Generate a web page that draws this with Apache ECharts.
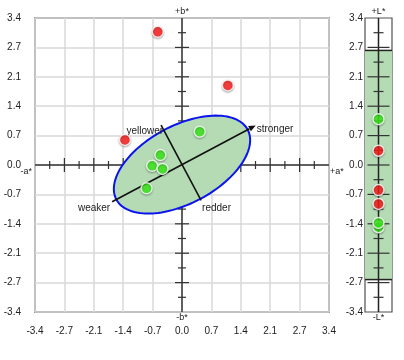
<!DOCTYPE html>
<html><head><meta charset="utf-8">
<script src="https://cdn.jsdelivr.net/npm/echarts@6/dist/echarts.min.js"></script>
<style>html,body{margin:0;padding:0;background:#fff}#c{width:404px;height:360px}</style>
</head><body><div id="c"></div>
<script>
// ---- data ----
const tickLabels = ['-3.4','-2.7','-2.1','-1.4','-0.7','0.0','0.7','1.4','2.1','2.7','3.4'];
const redAB = [[-0.56, 3.08], [-1.32, 0.58], [1.06, 1.84]];
const greenAB = [[0.41, 0.77], [-0.50, 0.23], [-0.69, -0.02], [-0.45, -0.09], [-0.82, -0.54]];
const redL = [0.33, -0.58, -0.90];
const greenL = [1.06, -1.44, -1.34];
const lRange = [-2.65, 2.65];
const ellipseCenter = [0, 0.01];
const ellipseAxes = [1.72, 0.90];
const ellipseAngle = 28; // degrees
const strengthAxis = [-1.83, 1.93];   // along major direction
const hueAxis = [-0.94, 1.03];        // along minor direction (positive = yellower)
const axisNames = {top: '+b*', bottom: '-b*', left: '-a*', right: '+a*', lTop: '+L*', lBottom: '-L*'};
const dirLabels = {weaker: 'weaker', stronger: 'stronger', yellower: 'yellower', redder: 'redder'};

const MIN = -3.4, MAX = 3.4, STEP = 0.68;
const fmt = v => tickLabels[Math.round((v - MIN) / STEP)] || '';
const tickFont = 'Liberation Sans Narrow, Liberation Sans, Arial, sans-serif';
const txtFont = 'Liberation Sans, Arial, sans-serif';
const majorTicks = [], minorTicks = [];
for (let k = 1; k < 10; k++) { const v = +(MIN + k * STEP).toFixed(4); if (Math.abs(v) > 1e-6) majorTicks.push(v); }
for (let k = 0; k < 10; k++) minorTicks.push(+(MIN + (k + 0.5) * STEP).toFixed(4));

const chart = echarts.init(document.getElementById('c'), null, {renderer: 'canvas'});

function crossRender(params, api) {
  const ch = [];
  const ls = {stroke: '#333', lineWidth: 1.5};
  const l = api.coord([MIN, 0]), r = api.coord([MAX, 0]);
  const t = api.coord([0, MAX]), b = api.coord([0, MIN]);
  ch.push({type: 'line', shape: {x1: l[0], y1: l[1], x2: r[0], y2: r[1]}, style: ls});
  ch.push({type: 'line', shape: {x1: t[0], y1: t[1], x2: b[0], y2: b[1]}, style: ls});
  const add = (v, len) => {
    const p = api.coord([v, 0]);
    ch.push({type: 'line', shape: {x1: p[0], y1: p[1] - len, x2: p[0], y2: p[1] + len}, style: {stroke: '#333', lineWidth: 1.2}});
    const q = api.coord([0, v]);
    ch.push({type: 'line', shape: {x1: q[0] - len, y1: q[1], x2: q[0] + len, y2: q[1]}, style: {stroke: '#333', lineWidth: 1.2}});
  };
  majorTicks.forEach(v => add(v, 7));
  minorTicks.forEach(v => add(v, 4));
  const nm = (text, x, y, align, va) => ch.push({type: 'text', style: {text, x, y, align, verticalAlign: va, font: '9px ' + txtFont, fill: '#222'}});
  nm(axisNames.top, t[0], t[1] - 2, 'center', 'bottom');
  nm(axisNames.bottom, b[0], b[1] + 1, 'center', 'top');
  nm(axisNames.left, l[0] - 3, l[1] + 2, 'right', 'top');
  nm(axisNames.right, r[0] + 1, r[1] + 2, 'left', 'top');
  return {type: 'group', children: ch};
}

function ellipseRender(params, api) {
  const th = ellipseAngle * Math.PI / 180, ct = Math.cos(th), st = Math.sin(th);
  const [cx, cy] = ellipseCenter, [a, bb] = ellipseAxes;
  const pts = [];
  for (let i = 0; i < 120; i++) {
    const u = i / 120 * Math.PI * 2;
    pts.push(api.coord([cx + a * ct * Math.cos(u) - bb * st * Math.sin(u), cy + a * st * Math.cos(u) + bb * ct * Math.sin(u)]));
  }
  const ch = [{type: 'polygon', shape: {points: pts}, style: {fill: '#b4dbb4', stroke: '#0a14ee', lineWidth: 2}}];
  const along = (s) => api.coord([cx + s * ct, cy + s * st]);
  const across = (s) => api.coord([cx - s * st, cy + s * ct]);
  const p0 = along(strengthAxis[0]), p1 = along(strengthAxis[1]);
  const h0 = across(hueAxis[0]), h1 = across(hueAxis[1]);
  const lst = {stroke: '#111', lineWidth: 1.6};
  ch.push({type: 'line', shape: {x1: h0[0], y1: h0[1], x2: h1[0], y2: h1[1]}, style: lst});
  // arrow
  const dx = p1[0] - p0[0], dy = p1[1] - p0[1], L = Math.hypot(dx, dy), ux = dx / L, uy = dy / L;
  const hl = 7, hw = 3;
  const bx = p1[0] - ux * hl, by = p1[1] - uy * hl;
  ch.push({type: 'line', shape: {x1: p0[0], y1: p0[1], x2: bx, y2: by}, style: lst});
  ch.push({type: 'polygon', shape: {points: [[p1[0], p1[1]], [bx - uy * hw, by + ux * hw], [bx + uy * hw, by - ux * hw]]}, style: {fill: '#111'}});
  const tx = (text, x, y, align) => ch.push({type: 'text', style: {text, x, y, align, verticalAlign: 'top', font: '10px ' + txtFont, fill: '#222'}});
  tx(dirLabels.weaker, p0[0] - 2, p0[1] + 2, 'right');
  tx(dirLabels.stronger, p1[0] + 1, p1[1] - 1, 'left');
  tx(dirLabels.yellower, h1[0] + 2, h1[1] + 1, 'right');
  tx(dirLabels.redder, h0[0] + 1, h0[1] + 3, 'left');
  return {type: 'group', children: ch};
}

function lRender(params, api) {
  const ch = [];
  const tl = api.coord([-1, lRange[1]]), br = api.coord([1, lRange[0]]);
  ch.push({type: 'rect', shape: {x: tl[0], y: tl[1], width: br[0] - tl[0], height: br[1] - tl[1]}, style: {fill: '#b4dbb4', stroke: null}});
  ch.push({type: 'line', shape: {x1: tl[0], y1: tl[1], x2: br[0], y2: tl[1]}, style: {stroke: '#222', lineWidth: 1.5}});
  ch.push({type: 'line', shape: {x1: tl[0], y1: br[1], x2: br[0], y2: br[1]}, style: {stroke: '#222', lineWidth: 1.5}});
  const t = api.coord([0, MAX]), b = api.coord([0, MIN]);
  ch.push({type: 'line', shape: {x1: t[0], y1: t[1], x2: b[0], y2: b[1]}, style: {stroke: '#222', lineWidth: 1.5}});
  const add = (v, len) => { const q = api.coord([0, v]); ch.push({type: 'line', shape: {x1: q[0] - len, y1: q[1], x2: q[0] + len, y2: q[1]}, style: {stroke: '#333', lineWidth: 1.2}}); };
  majorTicks.concat([0]).forEach(v => add(v, 11));
  minorTicks.forEach(v => add(v, 5));
  ch.push({type: 'text', style: {text: axisNames.lTop, x: t[0], y: t[1] - 2, align: 'center', verticalAlign: 'bottom', font: '9px ' + txtFont, fill: '#222'}});
  ch.push({type: 'text', style: {text: axisNames.lBottom, x: b[0], y: b[1] + 1, align: 'center', verticalAlign: 'top', font: '9px ' + txtFont, fill: '#222'}});
  return {type: 'group', children: ch};
}

const sym = (color) => ({color, borderColor: '#fff', borderWidth: 1.5, shadowColor: 'rgba(0,0,0,0.35)', shadowBlur: 2, shadowOffsetY: 1});
const valAxis = (extra) => Object.assign({
  type: 'value', min: MIN, max: MAX, interval: STEP,
  axisLine: {show: false}, axisTick: {show: false},
  axisLabel: {formatter: fmt, fontSize: 10, fontFamily: tickFont, color: '#222', margin: 14},
  splitLine: {show: true, lineStyle: {color: '#d8d8d8', width: 1.5}}
}, extra);

chart.setOption({
  animation: false,
  grid: [
    {left: 35, top: 18, width: 294, height: 294, show: true, borderColor: '#505050', borderWidth: 1.5, backgroundColor: '#fff'},
    {left: 365, top: 18, width: 27, height: 294, show: true, borderColor: '#505050', borderWidth: 1.2, backgroundColor: '#fff'}
  ],
  xAxis: [
    valAxis({gridIndex: 0}),
    {type: 'value', gridIndex: 1, min: -1, max: 1, show: false}
  ],
  yAxis: [
    valAxis({gridIndex: 0}),
    valAxis({gridIndex: 1, splitLine: {show: false}, axisLabel: {formatter: fmt, fontSize: 10, fontFamily: tickFont, color: '#222', margin: 2}})
  ],
  series: [
    {type: 'custom', xAxisIndex: 0, yAxisIndex: 0, data: [[0, 0]], renderItem: crossRender, z: 2, silent: true},
    {type: 'custom', xAxisIndex: 0, yAxisIndex: 0, data: [[0, 0]], renderItem: ellipseRender, z: 3, silent: true},
    {type: 'scatter', xAxisIndex: 0, yAxisIndex: 0, data: redAB, symbolSize: 11, itemStyle: sym('#ff1c1c'), z: 5},
    {type: 'scatter', xAxisIndex: 0, yAxisIndex: 0, data: greenAB, symbolSize: 11, itemStyle: sym('#3cef1c'), z: 5},
    {type: 'custom', xAxisIndex: 1, yAxisIndex: 1, data: [[0, 0]], renderItem: lRender, z: 2, silent: true},
    {type: 'scatter', xAxisIndex: 1, yAxisIndex: 1, data: redL.map(v => [0, v]), symbolSize: 11, itemStyle: sym('#ff1c1c'), z: 5},
    {type: 'scatter', xAxisIndex: 1, yAxisIndex: 1, data: greenL.map(v => [0, v]), symbolSize: 11, itemStyle: sym('#3cef1c'), z: 5}
  ]
});
</script></body></html>
